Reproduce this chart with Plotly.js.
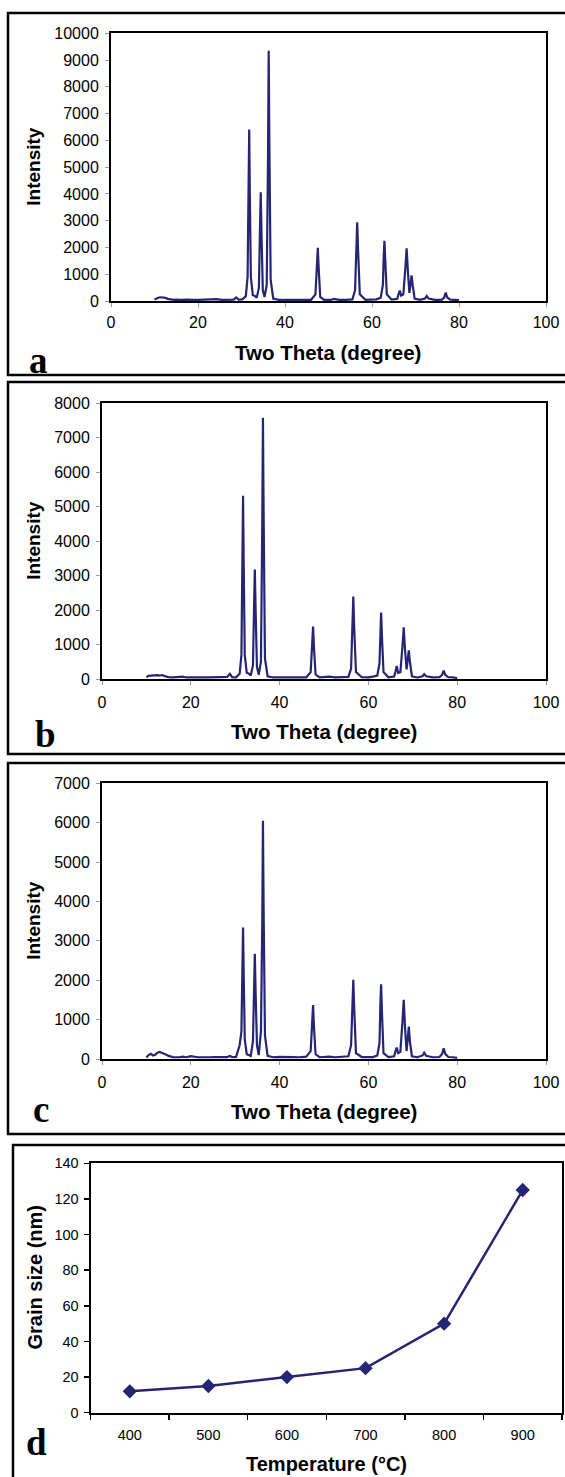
<!DOCTYPE html>
<html><head><meta charset="utf-8">
<script src="https://cdn.plot.ly/plotly-3.0.1.min.js"></script>
<style>html,body{margin:0;padding:0;background:#fff;} #chart{width:565px;height:1477px;}</style>
</head><body><div id="chart"></div>
<script>
// ---- data ----
const twoTheta = [10.0,10.5,11.0,11.5,12.0,12.5,13.0,13.5,14.0,14.5,15.0,16.0,17.5,18.2,19.0,20.0,21.5,23.0,24.2,25.5,
  27.0,28.2,28.8,29.3,30.2,31.0,31.4,31.65,31.77,31.9,32.15,32.6,33.0,33.5,34.0,34.25,34.42,34.6,34.9,35.3,
  35.8,36.1,36.25,36.4,36.7,37.3,38.5,40.0,41.5,43.0,44.5,46.0,47.0,47.35,47.54,47.75,48.1,49.0,50.5,51.2,
  52.5,54.0,55.5,56.1,56.45,56.6,56.8,57.2,58.5,60.0,61.0,62.0,62.5,62.7,62.86,63.05,63.4,64.5,65.8,66.1,
  66.38,66.7,67.2,67.7,67.96,68.25,68.6,68.85,69.1,69.35,69.8,71.0,72.2,72.56,73.0,74.5,76.0,76.6,76.95,77.3,
  78.0,79.0,80.0];
const intensityA = [60,110,130,140,135,120,80,60,50,45,50,40,55,40,45,40,45,40,70,40,
  45,50,130,55,60,180,900,4500,6410,4200,900,220,200,120,500,2700,4060,2500,400,150,
  600,5500,9350,6000,800,90,45,40,45,60,40,45,250,1400,1990,1200,150,45,40,80,
  40,45,60,400,2300,2940,1900,250,45,40,60,120,600,1700,2250,1500,250,50,80,250,
  390,200,250,1300,1970,1100,300,600,960,600,90,45,90,190,90,40,45,130,310,130,
  50,40,30];
const intensityB = [50,90,100,110,100,110,100,115,90,60,50,45,50,70,45,50,45,50,45,55,
  70,60,150,55,50,150,700,3700,5320,3500,700,180,160,100,400,2100,3180,2000,350,120,
  500,4500,7580,4800,600,80,45,45,50,60,45,50,200,1050,1520,900,130,45,50,70,
  45,50,60,300,1850,2390,1500,200,50,45,70,100,450,1450,1930,1250,200,50,70,220,
  380,180,200,1000,1500,850,280,550,830,500,80,45,80,140,80,45,50,120,240,120,
  50,45,30];
const intensityC = [40,100,130,90,110,160,180,160,150,110,80,50,45,60,45,70,45,55,45,50,
  60,50,80,50,55,350,700,2400,3340,2300,500,120,110,80,450,1800,2670,1700,350,100,
  700,3500,6050,3800,600,80,45,55,45,50,45,60,200,900,1370,800,120,45,50,60,
  45,50,70,350,1500,2010,1300,150,50,45,50,90,400,1400,1900,1200,150,50,70,200,
  290,150,180,1000,1500,800,200,500,820,450,70,45,90,160,80,45,50,130,270,130,
  50,45,30];
const temperature = [400,500,600,700,800,900];
const grainSize = [12,15,20,25,50,125];
const xrdTickVals = [0,20,40,60,80,100];
const yTicksA = [0,1000,2000,3000,4000,5000,6000,7000,8000,9000,10000];
const yTicksB = [0,1000,2000,3000,4000,5000,6000,7000,8000];
const yTicksC = [0,1000,2000,3000,4000,5000,6000,7000];
const yTicksD = [0,20,40,60,80,100,120,140];
const panelLetters = ['a','b','c','d'];
const xrdXTitle = 'Two Theta (degree)';
const xrdYTitle = 'Intensity';
const dXTitle = 'Temperature (°C)';
const dYTitle = 'Grain size (nm)';

// ---- layout helpers ----
const W = 565, H = 1477;
const PX = p => p / W;
const PY = p => 1 - p / H;
const NAVY = '#252574';
const SANS = 'Liberation Sans, Arial, sans-serif';
const SERIF = 'Liberation Serif, Times New Roman, serif';

function xrdTrace(y, ax) {
  return {x: twoTheta, y: y, xaxis: 'x' + ax, yaxis: 'y' + ax, type: 'scatter', mode: 'lines',
    line: {color: NAVY, width: 2.2}, hoverinfo: 'skip'};
}
const traces = [
  xrdTrace(intensityA, ''), xrdTrace(intensityB, '2'), xrdTrace(intensityC, '3'),
  {x: temperature, y: grainSize, xaxis: 'x4', yaxis: 'y4', type: 'scatter', mode: 'lines+markers',
   line: {color: NAVY, width: 2.5}, marker: {symbol: 'diamond', size: 11, color: NAVY}}
];

function xrdX(l, r, anchor, standoff) {
  return {domain: [PX(l), PX(r)], anchor: anchor, range: [0, 100], tickmode: 'array', tickvals: xrdTickVals,
    showline: true, mirror: true, linecolor: '#000', linewidth: 2, ticks: 'outside', ticklen: 4,
    tickcolor: '#999', tickwidth: 1, showgrid: false, zeroline: false, ticklabelstandoff: standoff,
    tickfont: {family: SANS, size: 16, color: '#000'}, fixedrange: true};
}
function xrdY(t, b, maxv, vals, anchor) {
  return {domain: [PY(b), PY(t)], anchor: anchor, range: [0, maxv], tickmode: 'array', tickvals: vals,
    ticktext: vals.map(String),
    showline: true, mirror: true, linecolor: '#000', linewidth: 2, ticks: 'outside', ticklen: 4,
    tickcolor: '#999', tickwidth: 1, showgrid: false, zeroline: false, ticklabelstandoff: 3,
    tickfont: {family: SANS, size: 16, color: '#000'}, fixedrange: true};
}

const frame = (x0, y0, x1, y1) => ({type: 'rect', xref: 'paper', yref: 'paper',
  x0: PX(x0), x1: PX(x1), y0: PY(y0), y1: PY(y1), line: {color: '#000', width: 2.5}, fillcolor: 'rgba(0,0,0,0)'});

const ann = (text, x, y, size, opts) => Object.assign({text: text, xref: 'paper', yref: 'paper',
  x: PX(x), y: PY(y), showarrow: false, xanchor: 'center', yanchor: 'middle',
  font: {family: SANS, size: size, color: '#000', weight: 'bold'}}, opts || {});
const letter = (t, x, y) => ann(t, x, y, 37, {xanchor: 'left', font: {family: SERIF, size: 37, color: '#000', weight: 'bold'}});

const layout = {
  width: W, height: H, margin: {l: 0, r: 0, t: 0, b: 0}, showlegend: false,
  paper_bgcolor: '#fff', plot_bgcolor: '#fff',
  xaxis: xrdX(111, 546, 'y', 2),
  yaxis: xrdY(33.3, 301, 10000, yTicksA, 'x'),
  xaxis2: xrdX(102, 546, 'y2', 4),
  yaxis2: xrdY(403.3, 679, 8000, yTicksB, 'x2'),
  xaxis3: xrdX(102, 546, 'y3', 4),
  yaxis3: xrdY(783.3, 1059, 7000, yTicksC, 'x3'),
  xaxis4: {domain: [PX(90.5), PX(562)], anchor: 'y4', range: [350, 950], tickmode: 'array', tickvals: temperature,
    showline: true, mirror: true, linecolor: '#000', linewidth: 2, ticks: '', showgrid: false, zeroline: false,
    ticklabelstandoff: 8,
    minor: {tick0: 350, dtick: 100, ticks: 'outside', ticklen: 5, tickcolor: '#000', tickwidth: 1.5, showgrid: false},
    tickfont: {family: SANS, size: 14.5, color: '#000'}, fixedrange: true},
  yaxis4: {domain: [PY(1412.7), PY(1163.3)], anchor: 'x4', range: [0, 140], tickmode: 'array', tickvals: yTicksD,
    showline: true, mirror: true, linecolor: '#000', linewidth: 2, ticks: 'outside', ticklen: 5,
    tickcolor: '#000', tickwidth: 1.5, showgrid: false, zeroline: false, ticklabelstandoff: 2,
    tickfont: {family: SANS, size: 14.5, color: '#000'}, fixedrange: true},
  shapes: [
    frame(8, 13, 568, 375),
    frame(8, 382, 568, 754),
    frame(8, 763, 568, 1134),
    frame(13, 1145, 568, 1480)
  ],
  annotations: [
    ann(xrdYTitle, 34, 166.7, 19, {textangle: -90}),
    ann(xrdXTitle, 328, 352, 20.5),
    ann(xrdYTitle, 34, 540.8, 19, {textangle: -90}),
    ann(xrdXTitle, 324, 731.7, 20.5),
    ann(xrdYTitle, 34, 920.8, 19, {textangle: -90}),
    ann(xrdXTitle, 324, 1111.7, 20.5),
    ann(dYTitle, 34, 1277.5, 20, {textangle: -90}),
    ann(dXTitle, 326, 1464, 20),
    letter(panelLetters[0], 27, 360),
    letter(panelLetters[1], 33, 734),
    letter(panelLetters[2], 31, 1109),
    letter(panelLetters[3], 24, 1442)
  ]
};
Plotly.newPlot('chart', traces, layout, {displayModeBar: false, staticPlot: true});
</script></body></html>
